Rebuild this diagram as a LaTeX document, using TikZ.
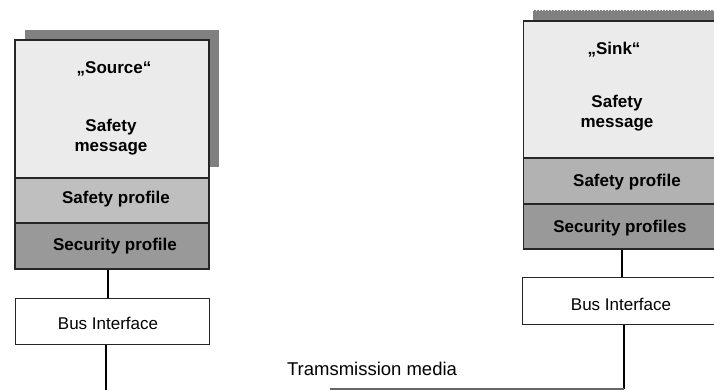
\documentclass[tikz,border=0pt]{standalone}
\usepackage{fontspec}
\setmainfont{Liberation Sans}
\begin{document}
\begin{tikzpicture}[x=1pt,y=-1pt,
  layer/.style={draw=black!85, line width=1.3pt, minimum width=194pt, inner sep=0pt, anchor=center},
  msgbox/.style={layer, fill=black!8},
  safebox/.style={layer, fill=black!25},
  secbox/.style={layer, fill=black!40},
  busbox/.style={layer, fill=white, line width=1pt},
  shadow/.style={fill=black!50, draw=none},
  boldtxt/.style={font=\fontsize{17}{20}\selectfont\bfseries, align=center, inner sep=0pt},
  plaintxt/.style={font=\fontsize{17}{20}\selectfont, inner sep=0pt},
  wire/.style={line width=2pt, black},
  thinwire/.style={line width=1.4pt, black}]
\useasboundingbox (0,0) rectangle (714,390);
\clip (0,0) rectangle (714,390);

% ---- source stack ----
\fill[shadow] (25,30) rectangle (219,167);
\node[msgbox, minimum height=138pt] (srcmsg) at (112,109) {};
\node[safebox, minimum height=45pt] (srcsafe) at (112,200.5) {};
\node[secbox, minimum height=46pt] (srcsec) at (112,246) {};
\node[busbox, minimum height=46pt] (srcbus) at (112,321) {};

\node[boldtxt] (srcname) at (114,69) {„Source“};
\node[boldtxt] (srcmsgtxt) at (111,137) {Safety\\message};
\node[boldtxt] (srcsafetxt) at (116,199) {Safety profile};
\node[boldtxt] (srcsectxt) at (115,246) {Security profile};
\node[plaintxt] (srcbustxt) at (108,323) {Bus Interface};

% ---- sink stack ----
\fill[shadow] (533,10) rectangle (728,148);
\draw[white, line width=0.6pt, dash pattern=on 1pt off 2pt] (533,10.3) -- (714,10.3);
\node[msgbox, minimum height=137pt] (snkmsg) at (620.5,89.5) {};
\node[safebox, fill=black!30, minimum height=46pt] (snksafe) at (620.5,181) {};
\node[secbox, minimum height=45pt] (snksec) at (620.5,226.5) {};
\node[busbox, minimum height=47pt] (snkbus) at (619.5,300.5) {};

\node[boldtxt] (snkname) at (614,50) {„Sink“};
\node[boldtxt] (snkmsgtxt) at (617,113.5) {Safety\\message};
\node[boldtxt] (snksafetxt) at (627,182) {Safety profile};
\node[boldtxt] (snksectxt) at (620,228) {Security profiles};
\node[plaintxt] (snkbustxt) at (621,304) {Bus Interface};

% ---- transmission media ----
\node[plaintxt, font=\fontsize{18.5}{20}\selectfont] (media) at (372,369) {Tramsmission media};
\coordinate (srcend) at (106,392);
\coordinate (snkcorner) at (624,389);
\coordinate (mediaend) at (330,389);

% ---- connectors ----
\draw[wire] ([xshift=-4pt]srcsec.south) -- ([xshift=-4pt]srcbus.north);
\draw[wire] ([xshift=-6pt]srcbus.south) -- (srcend);
\draw[thinwire] ([xshift=1.5pt]snksec.south) -- ([xshift=2.5pt]snkbus.north);
\draw[wire] ([xshift=4.5pt]snkbus.south) -- (snkcorner);
\draw[line width=2pt, black!60] (snkcorner) -- (mediaend);
\end{tikzpicture}
\end{document}
